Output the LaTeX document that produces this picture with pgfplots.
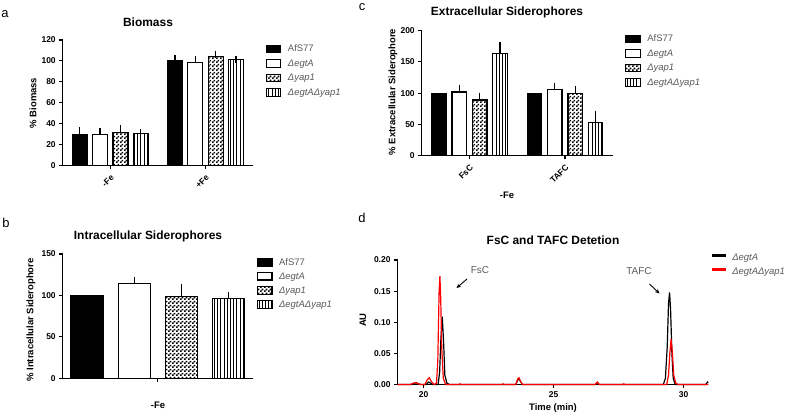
\documentclass[border=0pt]{standalone}
\usepackage{fontspec}
\setmainfont{Liberation Sans}
\usepackage{pgfplots}
\pgfplotsset{compat=1.18}
\usetikzlibrary{patterns,patterns.meta,arrows.meta}

\definecolor{legtext}{HTML}{595959}
\definecolor{gpred}{HTML}{FF0000}

% small checkerboard like the reference
\pgfdeclarepatternformonly{checks}{\pgfpointorigin}{\pgfqpoint{4bp}{4bp}}{\pgfqpoint{4bp}{4bp}}{
  \pgfpathrectangle{\pgfpointorigin}{\pgfqpoint{2bp}{2bp}}
  \pgfpathrectangle{\pgfqpoint{2bp}{2bp}}{\pgfqpoint{2bp}{2bp}}
  \pgfusepath{fill}}

\pgfplotsset{
  gp/.style={
    scale only axis, anchor=south west, clip=false,
    axis x line*=bottom, axis y line*=left,
    axis line style={line width=1.2bp, black},
    every tick/.style={line width=1.1bp, black},
    tick align=outside, major tick length=3.5bp,
    ticklabel style={font=\bfseries\fontsize{8.5}{10}\selectfont},
    /pgf/number format/assume math mode=true,
  },
  gpleg0/.style={legend cell align=left,
    legend style={anchor=north west, draw=none, fill=none, inner sep=0pt,
      row sep=5bp, font=\itshape\fontsize{9.5}{11}\selectfont, text=legtext,
      nodes={inner sep=0pt, text height=7.2bp, text depth=2.3bp},
      /tikz/every odd column/.append style={column sep=6.5bp}}},
  gpbar/.style={gp, ybar, xmin=-0.5, xmax=1.5, xtick={0,1}, gpleg0},
  gperr/.style={error bars/y dir=plus, error bars/y explicit,
    error bars/error bar style={line width=1.2bp, black},
    error bars/error mark options={line width=1.2bp, black, mark size=3.5bp}},
  gpleg/.style={legend image code/.code={\draw[##1, line width=1.2bp] (0bp,-3.3bp) rectangle (14.5bp,4.2bp);}},
  s1/.style={draw=black, fill=black, line width=1.2bp, gperr, gpleg},
  s1n/.style={draw=black, fill=black, line width=1.2bp, gpleg},
  s2/.style={draw=black, fill=white, line width=1.2bp, gperr, gpleg},
  s3/.style={draw=black, pattern=checks, line width=1.2bp, gperr, gpleg},
  s4/.style={draw=black, pattern={Lines[angle=90, distance=3.2bp, line width=1bp]}, line width=1.2bp, gperr, gpleg},
}

\begin{document}
\begin{tikzpicture}[x=1bp, y=1bp]
\useasboundingbox (0,0) rectangle (787,415);

% ---------- a: Biomass
\begin{axis}[gpbar, at={(62.7bp,249.3bp)}, width=190.3bp, height=125.7bp,
  ymin=0, ymax=120, ytick={0,20,...,120}, bar width=15bp,
  xticklabels={-Fe,+Fe}, xticklabel style={rotate=45, anchor=north east},
  legend style={at={(1.066,0.965)}}]
\addplot[s1, bar shift=-30.5bp] coordinates {(0,30) +- (0,3.3) (1,100) +- (0,2.5)};
\addlegendentry{\upshape AfS77}
\addplot[s2, bar shift=-10.2bp] coordinates {(0,30) +- (0,3) (1,98.5) +- (0,3)};
\addlegendentry{ΔegtA}
\addplot[s3, bar shift=10.2bp] coordinates {(0,32) +- (0,3.5) (1,104.5) +- (0,2)};
\addlegendentry{Δyap1}
\addplot[s4, bar shift=30.5bp] coordinates {(0,30.5) +- (0,1.5) (1,101) +- (0,0.8)};
\addlegendentry{ΔegtAΔyap1}
\end{axis}

% ---------- b: Intracellular
\begin{axis}[gpbar, at={(62.7bp,36.7bp)}, width=190bp, height=124.3bp,
  xmin=-0.5, xmax=0.5, xtick={0}, xticklabels={},
  ymin=0, ymax=150, ytick={0,50,100,150}, bar width=32bp,
  legend style={at={(1.021,0.97)}, row sep=4.5bp}]
\addplot[s1n, bar shift=-70.8bp] coordinates {(0,100)};
\addlegendentry{\upshape AfS77}
\addplot[s2, bar shift=-23.3bp] coordinates {(0,114) +- (0,3.7)};
\addlegendentry{ΔegtA}
\addplot[s3, bar shift=23.4bp] coordinates {(0,98.5) +- (0,10.5)};
\addlegendentry{Δyap1}
\addplot[s4, bar shift=70.7bp] coordinates {(0,96) +- (0,4.5)};
\addlegendentry{ΔegtAΔyap1}
\end{axis}

% ---------- c: Extracellular
\begin{axis}[gpbar, at={(421.7bp,259.3bp)}, width=191bp, height=125bp,
  ymin=0, ymax=200, ytick={0,50,...,200}, bar width=14.5bp,
  xticklabels={FsC,TAFC}, xticklabel style={rotate=45, anchor=north east},
  legend style={at={(1.064,0.97)}}]
\addplot[s1n, bar shift=-30.5bp] coordinates {(0,100) (1,100)};
\addlegendentry{\upshape AfS77}
\addplot[s2, bar shift=-10.2bp] coordinates {(0,102) +- (0,6) (1,106) +- (0,5.5)};
\addlegendentry{ΔegtA}
\addplot[s3, bar shift=10.2bp] coordinates {(0,89) +- (0,6.5) (1,100) +- (0,5.5)};
\addlegendentry{Δyap1}
\addplot[s4, bar shift=30.5bp] coordinates {(0,163) +- (0,14) (1,53.4) +- (0,13.3)};
\addlegendentry{ΔegtAΔyap1}
\end{axis}

% ---------- d: chromatogram
\begin{axis}[gp, gpleg0, at={(397.5bp,30.5bp)}, width=310.8bp, height=124.5bp,
  xmin=19, xmax=30.95, ymin=0, ymax=0.2,
  xtick={20,25,30}, ytick={0,0.05,...,0.2},
  yticklabel style={/pgf/number format/.cd, fixed, fixed zerofill, precision=2},
  legend style={at={(1.01,1.055)}, row sep=4.5bp}]
\addplot[color=black, line width=1.2bp, mark=none,
  legend image code/.code={\fill[black] (0bp,1.8bp) rectangle (13bp,3.2bp);}] coordinates {
(19.0,0) (19.55,0) (19.65,0.002) (19.72,0.003) (19.8,0.001) (19.9,0)
(20.1,0) (20.2,0.004) (20.28,0.002) (20.35,0) (20.56,0) (20.62,0.02)
(20.67,0.075) (20.72,0.109) (20.77,0.07) (20.82,0.015) (20.9,0.002) (21.0,0)
(23.55,0) (23.62,0.007) (23.67,0.009) (23.73,0.005) (23.8,0)
(26.6,0) (26.68,0.003) (26.76,0) (29.22,0) (29.3,0.01) (29.37,0.06)
(29.42,0.13) (29.46,0.148) (29.5,0.12) (29.55,0.05) (29.6,0.01) (29.68,0)
(30.85,0) (30.92,0.004) (30.95,0.003)};
\addlegendentry{ΔegtA}
\addplot[color=gpred, line width=1.2bp, mark=none,
  legend image code/.code={\fill[gpred] (0bp,1.8bp) rectangle (13bp,3.2bp);}] coordinates {
(19.0,0) (19.5,0) (19.6,0.002) (19.7,0.003) (19.8,0.001) (19.9,0)
(20.05,0) (20.15,0.008) (20.22,0.011) (20.3,0.005) (20.4,0) (20.5,0.002)
(20.55,0.04) (20.6,0.15) (20.63,0.174) (20.66,0.14) (20.7,0.06) (20.76,0.01)
(20.85,0) (21.35,0) (21.4,0.001) (21.45,0) (23.0,0) (23.07,0.001) (23.12,0)
(23.55,0) (23.62,0.009) (23.67,0.011) (23.72,0.006) (23.8,0)
(26.6,0) (26.68,0.004) (26.75,0) (27.65,0) (27.7,0.001) (27.75,0)
(29.35,0) (29.42,0.015) (29.47,0.05) (29.52,0.073) (29.57,0.05) (29.62,0.015)
(29.7,0.002) (29.8,0) (30.95,0)};
\addlegendentry{ΔegtAΔyap1}
\end{axis}

% ---------- titles, labels, annotations
\begin{scope}[every node/.style={font=\bfseries\fontsize{12}{14}\selectfont}]
\node at (148,393) {Biomass};
\node at (148,179) {Intracellular Siderophores};
\node at (507,403) {Extracellular Siderophores};
\node at (553,175) {FsC and TAFC Detetion};
\end{scope}
\begin{scope}[every node/.style={font=\fontsize{13}{15}\selectfont}]
\node at (5,401) {a};
\node at (6,192) {b};
\node at (362,408) {c};
\node at (362,197) {d};
\end{scope}
\begin{scope}[every node/.style={font=\bfseries\fontsize{9.5}{11}\selectfont}]
\node[rotate=90] at (33,312) {\% Biomass};
\node[rotate=90] at (31,95) {\% Intracellular Siderophore};
\node[rotate=90] at (393,323) {\% Extracellular Siderophore};
\node[rotate=90] at (363,95) {AU};
\node at (507,220) {-Fe};
\node at (158,10) {-Fe};
\node at (553,7) {Time (min)};
\end{scope}
\node[font=\fontsize{10}{11}\selectfont, text=legtext] at (480,145) {FsC};
\node[font=\fontsize{10}{11}\selectfont, text=legtext] at (639,144) {TAFC};
\draw[-{Stealth[length=4.5bp,width=4bp]}, line width=0.9bp] (467,136) -- (456.5,127);
\draw[-{Stealth[length=4.5bp,width=4bp]}, line width=0.9bp] (649.5,131) -- (659.5,121.5);
\end{tikzpicture}
\end{document}
